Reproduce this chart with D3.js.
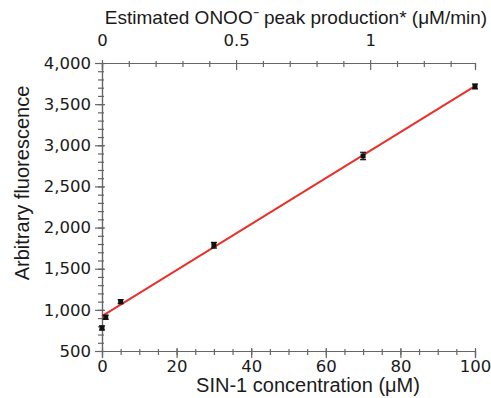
<!DOCTYPE html>
<html>
<head>
<meta charset="utf-8">
<script src="https://cdn.jsdelivr.net/npm/d3@7"></script>
<style>
  body { margin: 0; background: #fff; }
  .title { font-family: "Liberation Sans", Arial, sans-serif; font-size: 20px; fill: #1a1a1a; }
</style>
</head>
<body>
<svg id="chart" width="491" height="398"></svg>
<script>
// SIN-1 concentration (uM) and measured fluorescence
var sin1 = [0, 1, 5, 30, 70, 100];
var fluor = [780, 910, 1100, 1785, 2870, 3715];
var errs = [25, 25, 25, 35, 45, 30];
// linear fit: intercept, slope
var fitLine = [925, 27.94];

var xTicks = [0, 20, 40, 60, 80, 100];
var yTicks = [500, 1000, 1500, 2000, 2500, 3000, 3500, 4000];
var topTicks = [0, 0.5, 1];

var svg = d3.select("svg#chart"),
    margin = {top: 63, right: 16, bottom: 47, left: 102},
    width = +svg.attr("width") - margin.left - margin.right,
    height = +svg.attr("height") - margin.top - margin.bottom,
    g = svg.append("g").attr("transform", "translate(" + margin.left + "," + margin.top + ")");

var x = d3.scaleLinear().domain([0, 100]).range([0, width]);
var y = d3.scaleLinear().domain([500, 4000]).range([height, 0]);
// top axis: estimated ONOO- peak production, 1 uM/min ~ 71.9 uM SIN-1
var xTop = d3.scaleLinear().domain([0, 100 / 71.9]).range([0, width]);

var axisColor = "#666";
var fmt = d3.format(",");

function styleAxis(sel) {
  sel.attr("font-family", "DejaVu Sans, sans-serif").attr("font-size", 16.5);
  sel.select(".domain").attr("stroke", axisColor).attr("stroke-width", 1.2);
  sel.selectAll(".tick line").attr("stroke", axisColor).attr("stroke-width", 1.2);
  sel.selectAll(".tick text").attr("fill", "#1a1a1a");
}

// minor ticks
g.append("g")
    .attr("transform", "translate(0," + height + ")")
    .call(d3.axisBottom(x).tickValues(d3.range(5, 100, 5)).tickSize(4).tickFormat(""))
    .call(styleAxis)
    .call(function(s) { s.selectAll(".tick line").attr("y1", -2); });
g.append("g")
    .call(d3.axisLeft(y).tickValues(d3.range(600, 4000, 100)).tickSize(4).tickFormat(""))
    .call(styleAxis)
    .call(function(s) { s.selectAll(".tick line").attr("x1", 2); });
g.append("g")
    .call(d3.axisTop(xTop).tickValues([0.1, 0.2, 0.3, 0.4, 0.6, 0.7, 0.8, 0.9, 1.1, 1.2, 1.3]).tickSize(-4).tickFormat(""))
    .call(styleAxis)
    .call(function(s) { s.selectAll(".tick line").attr("y1", -2); });

// major ticks
g.append("g")
    .attr("transform", "translate(0," + height + ")")
    .call(d3.axisBottom(x).tickValues(xTicks).tickSize(7).tickPadding(2))
    .call(styleAxis)
    .call(function(s) { s.selectAll(".tick line").attr("y1", -3); });
g.append("g")
    .call(d3.axisLeft(y).tickValues(yTicks).tickSize(7).tickPadding(4).tickFormat(fmt))
    .call(styleAxis)
    .call(function(s) { s.selectAll(".tick line").attr("x1", 3); });
g.append("g")
    .call(d3.axisTop(xTop).tickValues(topTicks).tickSize(-7).tickFormat(d3.format("")))
    .call(styleAxis)
    .call(function(s) {
      s.selectAll(".tick line").attr("y1", -3);
      s.selectAll(".tick text").attr("y", -17);
    });

// fit line
g.append("line")
    .attr("x1", x(0))
    .attr("y1", y(fitLine[0]))
    .attr("x2", x(100))
    .attr("y2", y(fitLine[0] + fitLine[1] * 100))
    .attr("stroke", "#e8312b")
    .attr("stroke-width", 2);

var pts = sin1.map(function(d, i) { return {x: d, y: fluor[i], e: errs[i]}; });

// error bars
var eb = g.append("g").attr("stroke", "#111").attr("stroke-width", 1.2);
eb.selectAll("line.v").data(pts).enter().append("line")
    .attr("x1", function(d) { return x(d.x); })
    .attr("x2", function(d) { return x(d.x); })
    .attr("y1", function(d) { return y(d.y - d.e); })
    .attr("y2", function(d) { return y(d.y + d.e); });
eb.selectAll("line.c1").data(pts).enter().append("line")
    .attr("x1", function(d) { return x(d.x) - 3; })
    .attr("x2", function(d) { return x(d.x) + 3; })
    .attr("y1", function(d) { return y(d.y + d.e); })
    .attr("y2", function(d) { return y(d.y + d.e); });
eb.selectAll("line.c2").data(pts).enter().append("line")
    .attr("x1", function(d) { return x(d.x) - 3; })
    .attr("x2", function(d) { return x(d.x) + 3; })
    .attr("y1", function(d) { return y(d.y - d.e); })
    .attr("y2", function(d) { return y(d.y - d.e); });

// points
g.append("g").selectAll("rect").data(pts).enter().append("rect")
    .attr("x", function(d) { return x(d.x) - 2.5; })
    .attr("y", function(d) { return y(d.y) - 2.5; })
    .attr("width", 5)
    .attr("height", 5)
    .attr("fill", "#111");

// titles
svg.append("text").attr("class", "title")
    .attr("x", 308).attr("y", 392)
    .attr("text-anchor", "middle")
    .text("SIN-1 concentration (\u03bcM)");

svg.append("text").attr("class", "title")
    .attr("transform", "translate(29,183) rotate(-90)")
    .attr("text-anchor", "middle")
    .text("Arbitrary fluorescence");

svg.append("text").attr("class", "title")
    .attr("x", 296).attr("y", 24)
    .attr("text-anchor", "middle")
    .style("font-size", "19px")
    .text("Estimated ONOO\u207b peak production* (\u03bcM/min)");
</script>
</body>
</html>
